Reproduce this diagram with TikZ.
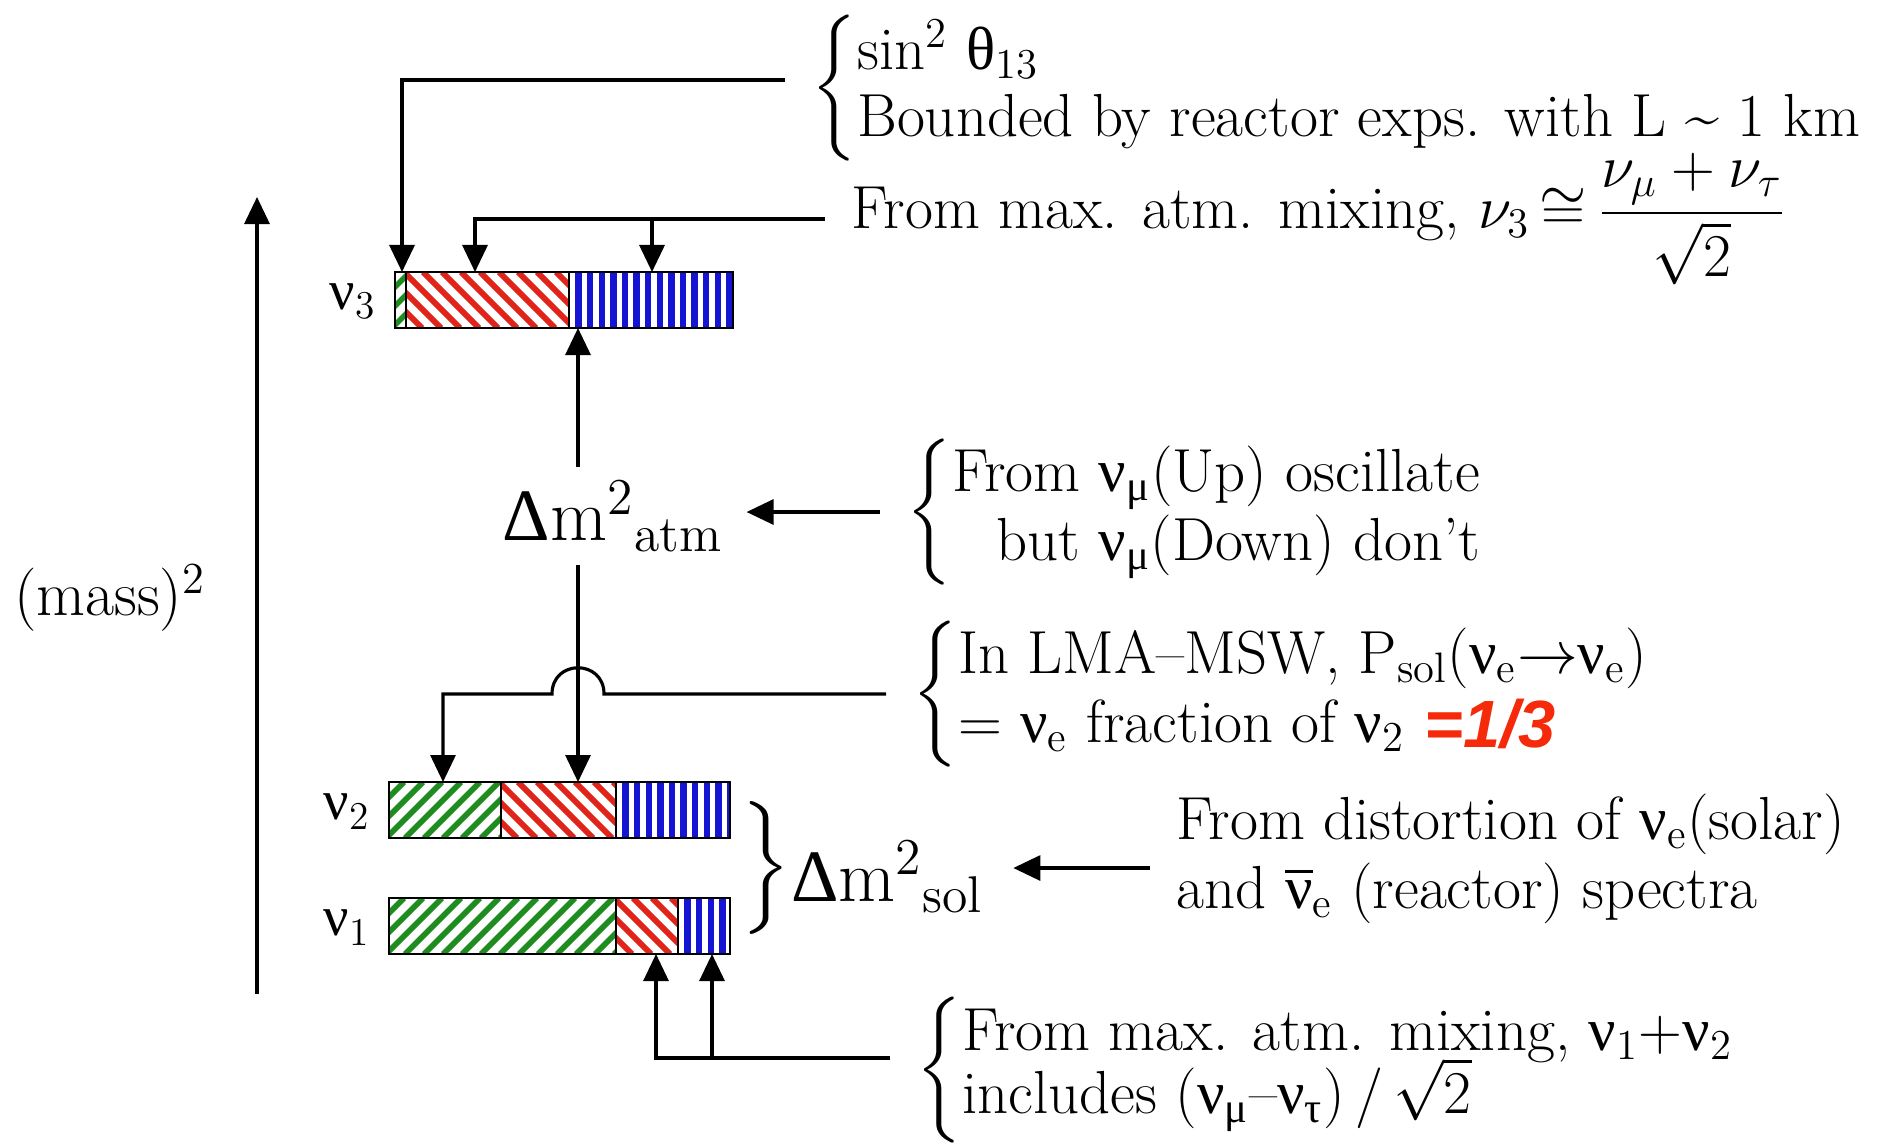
\documentclass[tikz,border=0pt]{standalone}
\usepackage{amsmath, amssymb}
\usepackage{fontspec}
\newfontfamily\gkfont{Liberation Serif}
\newfontfamily\labfont{Liberation Sans}
\usepackage{tikz}
\usetikzlibrary{arrows.meta, positioning, calc}
\definecolor{HatchGreen}{HTML}{1E8C1E}
\definecolor{HatchRed}{HTML}{E0241A}
\definecolor{HatchBlue}{HTML}{1414D2}
\definecolor{FracRed}{HTML}{F52A0A}
\newcommand{\nus}[1]{{\gkfont ν}\textsubscript{#1}}
\tikzset{
  bar/.style={minimum height=0.56cm, inner sep=0pt, anchor=north west},
  hgreen/.style={HatchGreen, line width=1.6pt},
  hred/.style={HatchRed, line width=1.7pt},
  hblue/.style={HatchBlue, line width=1.8pt},
  note/.style={font=\fontsize{17.3}{19.5}\selectfont, inner xsep=0.25cm, inner ysep=0pt, anchor=west},
  lab/.style={font=\fontsize{16}{19.5}\selectfont, inner xsep=0.17cm},
  big/.style={font=\fontsize{21}{24}\selectfont},
  third/.style={font=\labfont\bfseries\itshape\fontsize{19}{22}\selectfont, text=FracRed},
}

\begin{document}
\begin{tikzpicture}[x=0.01cm, y=-0.01cm, line width=0.9pt, >={Triangle[length=0.27cm, width=0.25cm]}]
  \useasboundingbox (0,0) rectangle (1877,1142);
  % --- hatched segments: left/right/top/style/slant/gap ---
  \foreach \xa/\xb/\ya/\hs/\dx/\gap in {
      395/406/272/hgreen/1/19, 406/569/272/hred/-1/19, 569/733/272/hblue/0/11.6,
      389/501/782/hgreen/1/19, 501/616/782/hred/-1/19, 616/730/782/hblue/0/11.6,
      389/616/898/hgreen/1/19, 616/678/898/hred/-1/19, 678/730/898/hblue/0/11.6} {
    \begin{scope}
      \clip (\xa,\ya) rectangle (\xb,\ya+56);
      \foreach \i [evaluate=\i as \x using \xa-60+\i*\gap] in {0,...,32}
        \draw[\hs] (\x,\ya+56) -- ++(56*\dx,-56);
    \end{scope}
    \draw[line width=0.8pt] (\xa,\ya) rectangle (\xb,\ya+56);
  }
  % --- mass states ---
  \node[bar, minimum width=3.38cm] (nu3) at (395,272) {};
  \node[bar, minimum width=3.41cm] (nu2) at (389,782) {};
  \node[bar, minimum width=3.41cm] (nu1) at (389,898) {};
  \node[lab, left=0pt of nu3] (lab3) {\nus{3}};
  \node[lab, left=0pt of nu2] (lab2) {\nus{2}};
  \node[lab, left=0pt of nu1] (lab1) {\nus{1}};
  % --- mass axis ---
  \coordinate (axbot) at (257,994);
  \coordinate (axtop) at (257,197);
  \draw[->] (axbot) -- (axtop);
  \node[font=\fontsize{18}{22}\selectfont] (mass) at (110,598) {(mass)\textsuperscript{2}};
  % --- arrow targets ---
  \coordinate (a13) at (402,272);
  \coordinate (a3r) at (475,272);
  \coordinate (a3b) at (652,272);
  \coordinate (a3u) at (578,328);
  \coordinate (a2g) at (443,782);
  \coordinate (a2r) at (578,782);
  \coordinate (a1r) at (656,954);
  \coordinate (a1b) at (712,954);
  \coordinate (hopR) at (604,694);
  \coordinate (hopL) at (552,694);
  % --- annotations ---
  \node[note, font=\fontsize{17.3}{19}\selectfont] (t13) at (785,88) {$\left\{\begin{tabular}{@{}l@{}}sin\textsuperscript{2} {\gkfont θ}\textsubscript{13}\\ Bounded by reactor exps. with L \textasciitilde{} 1 km\end{tabular}\right.$};
  \node[note] (tmix) at (825,219) {From max. atm. mixing, $\nu_3\,{\cong}\,\dfrac{\nu_\mu + \nu_\tau}{\sqrt{2}}$};
  \node[big] (datm) at (613,516) {{\gkfont Δ}m\textsuperscript{2}\textsubscript{atm}};
  \node[note] (tatm) at (880,512) {$\left\{\begin{tabular}{@{}r@{}}From \nus{\gkfont μ}(Up) oscillate\\ but \nus{\gkfont μ}(Down) don’t\end{tabular}\right.$};
  \node[note] (tlma) at (886,694) {$\left\{\begin{tabular}{@{}l@{}}In LMA–MSW, P\textsubscript{sol}(\nus{e}$\to$\nus{e})\\ = \nus{e} fraction of \nus{2}\end{tabular}\right.$};
  \node[third] (third) at (1490,724) {=1/3};
  \node[big, anchor=west, inner xsep=0pt] (dsol) at (736,868) {$\left.\vrule height 0.42cm depth 0.42cm width 0pt\right\}$\raisebox{-1.5mm}{{\gkfont Δ}m\textsuperscript{2}\textsubscript{sol}}};
  \node[note] (tsol) at (1150,860) {\begin{tabular}{@{}l@{}}From distortion of \nus{e}(solar)\\ and $\overline{\hbox{\gkfont ν}}$\textsubscript{e} (reactor) spectra\end{tabular}};
  \node[note, font=\fontsize{17.3}{16.5}\selectfont] (tinc) at (890,1070) {$\left\{\begin{tabular}{@{}l@{}}From max. atm. mixing, \nus{1}+\nus{2}\\ includes (\nus{\gkfont μ}–\nus{\gkfont τ})\,/\,$\smash{\sqrt{2}}$\end{tabular}\right.$};
  \coordinate (tincL) at ([yshift=0.12cm]tinc.west);
  % --- connectors ---
  \draw[->] ([yshift=0.08cm]t13.west) -| (a13);
  \draw[->] (tmix.west) -| (a3r);
  \draw[->] (a3b |- tmix.west) -- (a3b);
  \draw[->] (a3u |- datm.north) -- (a3u);
  \draw[->, shorten >=0.1cm] (tatm.west) -- (tatm.west -| datm.east);
  \draw[->] (a3u |- datm.south) -- (a2r);
  \draw[->] (tlma.west) -- (hopR) .. controls +(0,-35) and +(0,-35) .. (hopL) -| (a2g);
  \draw[->, shorten >=0.28cm] (dsol.east -| tsol.west) -- (dsol.east);
  \draw[->] (tincL) -| (a1r);
  \draw[->] (a1b |- tincL) -- (a1b);
\end{tikzpicture}
\end{document}
